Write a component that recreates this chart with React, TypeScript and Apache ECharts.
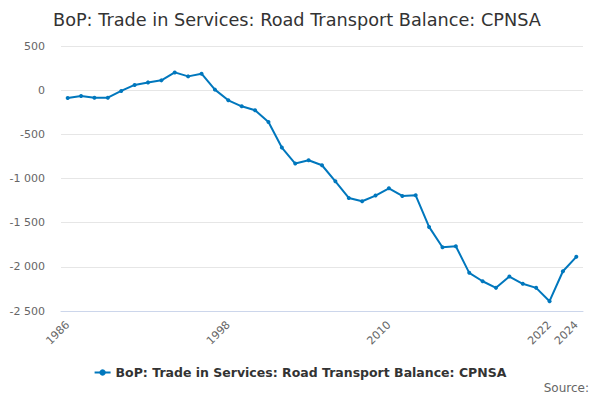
import React, { useEffect, useRef } from "react";
import * as echarts from "echarts";

const years: string[] = [];
for (let y = 1986; y <= 2024; y++) years.push(String(y));

const balance = [
  -88, -66, -85, -85, -9, 59, 88, 111, 201, 156,
  187, 6, -115, -183, -228, -360, -650, -831, -794, -850,
  -1032, -1220, -1258, -1193, -1111, -1197, -1190, -1548, -1778, -1767,
  -2068, -2163, -2238, -2110, -2192, -2238, -2389, -2050, -1887,
];

const seriesName = "BoP: Trade in Services: Road Transport Balance: CPNSA";
const font = "DejaVu Sans, Verdana, sans-serif";

const fmt = (v: number) => {
  const s = String(Math.abs(v)).replace(/\B(?=(\d{3})+(?!\d))/g, " ");
  return (v < 0 ? "-" : "") + s;
};

const App = () => {
  const chartRef = useRef<HTMLDivElement | null>(null);

  useEffect(() => {
    const chart = echarts.init(chartRef.current as HTMLDivElement, undefined, { renderer: "svg" });
    chart.setOption({
      animation: false,
      textStyle: { fontFamily: font },
      title: {
        text: "BoP: Trade in Services: Road Transport Balance: CPNSA",
        left: 48,
        top: 6,
        textStyle: { fontSize: 17.7, fontWeight: "normal", color: "#333", fontFamily: font },
      },
      legend: {
        bottom: 16,
        left: "center",
        itemWidth: 16,
        itemHeight: 8,
        data: [seriesName],
        textStyle: { fontSize: 12.5, fontWeight: "bold", color: "#333", fontFamily: font },
      },
      grid: { left: 61, right: 17, top: 46, bottom: 89 },
      xAxis: {
        type: "category",
        data: years,
        boundaryGap: true,
        axisLine: { onZero: false, lineStyle: { color: "#ccd6eb" } },
        axisTick: {
          alignWithLabel: true,
          length: 10,
          lineStyle: { color: "#ccd6eb" },
          interval: (i: number) => i % 3 === 0 || i === years.length - 1,
        },
        axisLabel: {
          rotate: 45,
          color: "#666",
          fontSize: 11,
          margin: 12,
          interval: (i: number) => i % 12 === 0 || i === years.length - 1,
        },
      },
      yAxis: {
        type: "value",
        min: -2500,
        max: 500,
        interval: 500,
        axisLine: { show: false },
        axisTick: { show: false },
        splitLine: { lineStyle: { color: "#e6e6e6" } },
        axisLabel: { color: "#666", fontSize: 11, margin: 16, formatter: fmt },
      },
      series: [
        {
          name: seriesName,
          type: "line",
          data: balance,
          symbol: "circle",
          symbolSize: 4,
          lineStyle: { color: "#0077bd", width: 2 },
          itemStyle: { color: "#0077bd" },
        },
      ],
      graphic: [
        {
          type: "text",
          right: 11,
          top: 382,
          style: { text: "Source:", fill: "#666", fontSize: 12, fontFamily: font },
        },
      ],
    });
    return () => {
      chart.dispose();
    };
  }, []);

  return <div ref={chartRef} style={{ width: 600, height: 400, position: "absolute", left: 0, top: 0 }}></div>;
};

export default App;
